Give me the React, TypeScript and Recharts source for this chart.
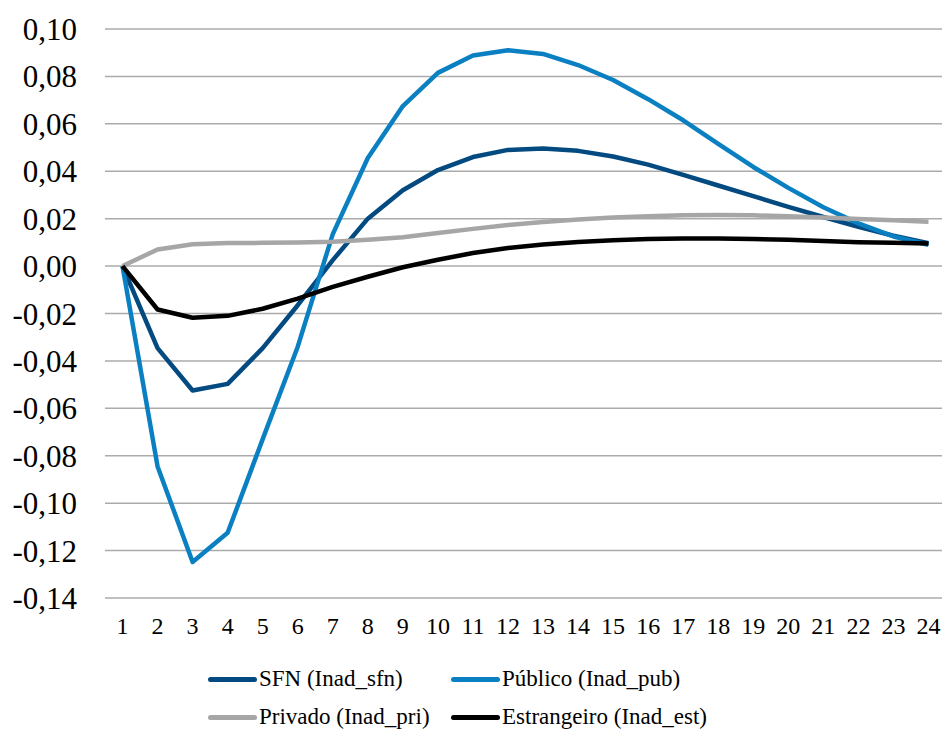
import React from "react";
import { LineChart, Line, XAxis, YAxis, CartesianGrid, Legend } from "recharts";

const periods = [1, 2, 3, 4, 5, 6, 7, 8, 9, 10, 11, 12, 13, 14, 15, 16, 17, 18, 19, 20, 21, 22, 23, 24];

const sfn = [0, -0.0346, -0.0525, -0.0497, -0.0346, -0.0165, 0.0025, 0.02, 0.032, 0.0405, 0.046, 0.049, 0.0496, 0.0486, 0.0462, 0.0428, 0.0385, 0.034, 0.0295, 0.025, 0.0207, 0.0166, 0.0128, 0.0096];
const pub = [0, -0.0845, -0.1248, -0.1125, -0.073, -0.034, 0.0135, 0.0456, 0.0675, 0.0815, 0.0888, 0.091, 0.0895, 0.0848, 0.0785, 0.0704, 0.0615, 0.0515, 0.0418, 0.033, 0.0248, 0.018, 0.0125, 0.009];
const pri = [0, 0.007, 0.0092, 0.0097, 0.0098, 0.0099, 0.0103, 0.0111, 0.0122, 0.014, 0.0157, 0.0173, 0.0186, 0.0196, 0.0205, 0.021, 0.0214, 0.0215, 0.0214, 0.021, 0.0205, 0.0199, 0.0193, 0.0187];
const est = [0, -0.0183, -0.0218, -0.021, -0.018, -0.0137, -0.0088, -0.0045, -0.0005, 0.0027, 0.0055, 0.0076, 0.0091, 0.0102, 0.0109, 0.0114, 0.0116, 0.0116, 0.0114, 0.0111, 0.0106, 0.0101, 0.0098, 0.0095];

const yTicks = [-0.14, -0.12, -0.1, -0.08, -0.06, -0.04, -0.02, 0, 0.02, 0.04, 0.06, 0.08, 0.1];

const seriesNames = ["SFN (Inad_sfn)", "Público (Inad_pub)", "Privado (Inad_pri)", "Estrangeiro (Inad_est)"];
const seriesKeys = ["sfn", "pub", "pri", "est"];
const seriesColors = ["#024A80", "#0A80C2", "#A6A6A6", "#000000"];

const data = periods.map((p, i) => ({ p, sfn: sfn[i], pub: pub[i], pri: pri[i], est: est[i] }));

const FONT = "Liberation Serif";

const legendPos = [
  { x: 208, y: 29 },
  { x: 451, y: 29 },
  { x: 208, y: 67 },
  { x: 451, y: 67 },
];

const globalCss = `#root, #root *, #root svg text, #root .recharts-text { font-family: "Liberation Serif", "Times New Roman", serif !important; }`;

const XTick = (props: any) => {
  const { x, y, payload } = props;
  return (
    <text x={x} y={y} dy="0.71em" textAnchor="middle" fill="#000" fontSize={24} fontFamily={FONT} style={{ fontFamily: FONT }}>
      {payload.value}
    </text>
  );
};

const YTick = (props: any) => {
  const { x, y, payload } = props;
  return (
    <text x={x} y={y} dy="0.355em" textAnchor="end" fill="#000" fontSize={31} fontFamily={FONT} style={{ fontFamily: FONT }}>
      {Number(payload.value).toFixed(2).replace(".", ",")}
    </text>
  );
};

const renderLegend = () => (
  <div style={{ position: "relative", width: 942, height: 81, fontFamily: FONT }}>
    {seriesNames.map((name, i) => (
      <React.Fragment key={name}>
        <div
          style={{
            position: "absolute",
            left: legendPos[i].x,
            top: legendPos[i].y - 2.5,
            width: 49,
            height: 5,
            borderRadius: 2.5,
            background: seriesColors[i],
          }}
        />
        <div
          style={{
            position: "absolute",
            left: legendPos[i].x + 51,
            top: legendPos[i].y - 13,
            height: 26,
            lineHeight: "26px",
            fontSize: 23,
            fontFamily: FONT,
            color: "#000",
            whiteSpace: "nowrap",
          }}
        >
          {name}
        </div>
      </React.Fragment>
    ))}
  </div>
);

export default function App() {
  return (
    <div style={{ position: "absolute", left: 0, top: 0, width: 942, height: 731, overflow: "hidden", background: "#fff", fontFamily: FONT }}>
      <style>{globalCss}</style>
      <LineChart width={950} height={731} data={data} margin={{ top: 29, right: 4, left: 0, bottom: 93 }}>
        <CartesianGrid vertical={false} stroke="#ABABAB" strokeWidth={1.5} />
        <XAxis
          dataKey="p"
          type="number"
          domain={[0.5, 24.5]}
          ticks={periods}
          interval={0}
          axisLine={false}
          tickLine={false}
          tickSize={0}
          tickMargin={19}
          height={40}
          tick={<XTick />}
        />
        <YAxis
          type="number"
          domain={[-0.14, 0.1]}
          ticks={yTicks}
          interval={0}
          width={105}
          axisLine={false}
          tickLine={false}
          tickSize={0}
          tickMargin={28}
          tick={<YTick />}
        />
        {seriesKeys.map((k, i) => (
          <Line
            key={k}
            type="linear"
            dataKey={k}
            name={seriesNames[i]}
            stroke={seriesColors[i]}
            strokeWidth={4.5}
            strokeLinejoin="round"
            dot={false}
            activeDot={false}
            isAnimationActive={false}
          />
        ))}
        <Legend
          layout="horizontal"
          verticalAlign="middle"
          align="center"
          content={renderLegend}
          wrapperStyle={{ left: 0, top: 650, width: 942, height: 81 }}
        />
      </LineChart>
    </div>
  );
}
